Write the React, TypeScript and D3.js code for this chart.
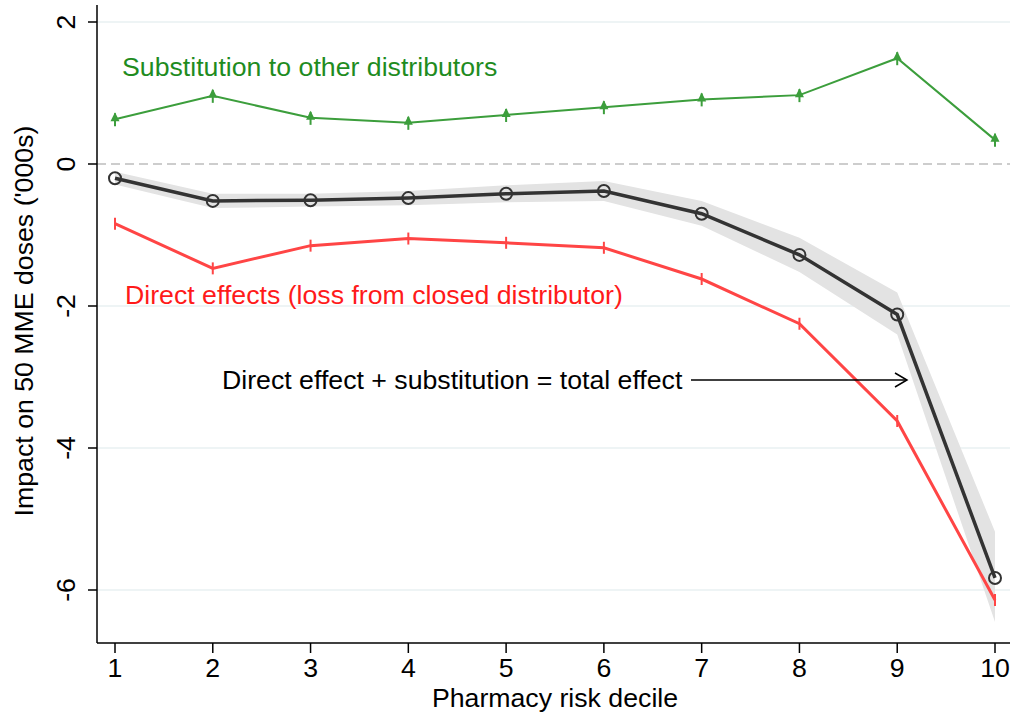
import React from "react";
import * as d3 from "d3";

const deciles = [1, 2, 3, 4, 5, 6, 7, 8, 9, 10];
const substitution = [0.63, 0.96, 0.65, 0.58, 0.69, 0.8, 0.91, 0.97, 1.49, 0.34];
const totalEffect = [-0.2, -0.52, -0.51, -0.48, -0.42, -0.38, -0.7, -1.28, -2.12, -5.83];
const totalLower = [-0.29, -0.62, -0.6, -0.58, -0.54, -0.52, -0.87, -1.52, -2.4, -6.45];
const totalUpper = [-0.11, -0.42, -0.42, -0.38, -0.3, -0.24, -0.52, -1.04, -1.81, -5.18];
const directEffect = [-0.84, -1.47, -1.15, -1.05, -1.11, -1.18, -1.62, -2.25, -3.62, -6.14];
const yTicks = [2, 0, -2, -4, -6];

const W = 1013;
const H = 719;
const FONT = "Arial, 'Liberation Sans', Helvetica, sans-serif";
const FS = 26.7;

export default function App() {
  const left = 97;
  const right = 1010;
  const top = 5;
  const bottom = 643;

  const x = d3.scaleLinear().domain([1, 10]).range([115, 995]);
  const y = d3.scaleLinear().domain([0, 2]).range([164, 22]);

  const line = d3
    .line<number>()
    .x((_, i) => x(deciles[i]))
    .y((d) => y(d));

  const band = d3
    .area<number>()
    .x((_, i) => x(deciles[i]))
    .y0((_, i) => y(totalLower[i]))
    .y1((_, i) => y(totalUpper[i]));

  const green = "#3c9e3c";
  const red = "#ff4545";
  const dark = "#333333";

  return (
    <svg
      width={W}
      height={H}
      style={{ position: "absolute", left: 0, top: 0, background: "#fff" }}
      fontFamily={FONT}
    >
      {/* horizontal grid */}
      {yTicks
        .filter((t) => t !== 0)
        .map((t) => (
          <line
            key={t}
            x1={left}
            x2={right}
            y1={y(t)}
            y2={y(t)}
            stroke="#e8f0f2"
            strokeWidth={1.5}
          />
        ))}
      <line
        x1={left}
        x2={right}
        y1={y(0)}
        y2={y(0)}
        stroke="#bdbdbd"
        strokeWidth={1.5}
        strokeDasharray="9,5"
      />

      {/* confidence band for total effect */}
      <path d={band(totalEffect) ?? ""} fill="#e3e3e3" />

      {/* direct effects */}
      <path d={line(directEffect) ?? ""} fill="none" stroke={red} strokeWidth={3} />
      {directEffect.map((v, i) => (
        <line
          key={i}
          x1={x(deciles[i])}
          x2={x(deciles[i])}
          y1={y(v) - 6}
          y2={y(v) + 6}
          stroke={red}
          strokeWidth={2}
        />
      ))}

      {/* total effect */}
      <path d={line(totalEffect) ?? ""} fill="none" stroke={dark} strokeWidth={3.5} />
      {totalEffect.map((v, i) => (
        <circle
          key={i}
          cx={x(deciles[i])}
          cy={y(v)}
          r={6}
          fill="none"
          stroke={dark}
          strokeWidth={2}
        />
      ))}

      {/* substitution */}
      <path d={line(substitution) ?? ""} fill="none" stroke={green} strokeWidth={2} />
      {substitution.map((v, i) => {
        const cx = x(deciles[i]);
        const cy = y(v);
        return (
          <g key={i}>
            <line x1={cx} x2={cx} y1={cy - 6} y2={cy + 7} stroke={green} strokeWidth={2} />
            <path
              d={`M${cx},${cy - 7} L${cx + 4.5},${cy + 2} L${cx - 4.5},${cy + 2} Z`}
              fill={green}
            />
          </g>
        );
      })}

      {/* annotations */}
      <text x={122} y={76} fontSize={FS} fill="#1f8c1f">
        Substitution to other distributors
      </text>
      <text x={125} y={304} fontSize={FS} fill="#ff1a1a">
        Direct effects (loss from closed distributor)
      </text>
      <text x={222} y={389} fontSize={FS} fill="#000">
        Direct effect + substitution = total effect
      </text>
      <line x1={691} x2={907} y1={380} y2={380} stroke="#000" strokeWidth={1.5} />
      <path
        d="M895,373 L907,380 L895,387"
        fill="none"
        stroke="#000"
        strokeWidth={1.5}
      />

      {/* axes */}
      <line x1={left} x2={left} y1={top} y2={bottom} stroke="#000" strokeWidth={1.5} />
      <line x1={left} x2={right} y1={bottom} y2={bottom} stroke="#000" strokeWidth={1.5} />
      {yTicks.map((t) => (
        <g key={t}>
          <line x1={left - 9} x2={left} y1={y(t)} y2={y(t)} stroke="#000" strokeWidth={1.5} />
          <text
            transform={`translate(75,${y(t)}) rotate(-90)`}
            textAnchor="middle"
            fontSize={FS}
            fill="#000"
          >
            {t}
          </text>
        </g>
      ))}
      {deciles.map((d) => (
        <g key={d}>
          <line x1={x(d)} x2={x(d)} y1={bottom} y2={bottom + 10} stroke="#000" strokeWidth={1.5} />
          <text x={x(d)} y={677} textAnchor="middle" fontSize={FS} fill="#000">
            {d}
          </text>
        </g>
      ))}
      <text
        transform={`translate(33,321) rotate(-90)`}
        textAnchor="middle"
        fontSize={FS}
        fill="#000"
      >
        Impact on 50 MME doses ('000s)
      </text>
      <text x={555} y={707} textAnchor="middle" fontSize={FS} fill="#000">
        Pharmacy risk decile
      </text>
    </svg>
  );
}
